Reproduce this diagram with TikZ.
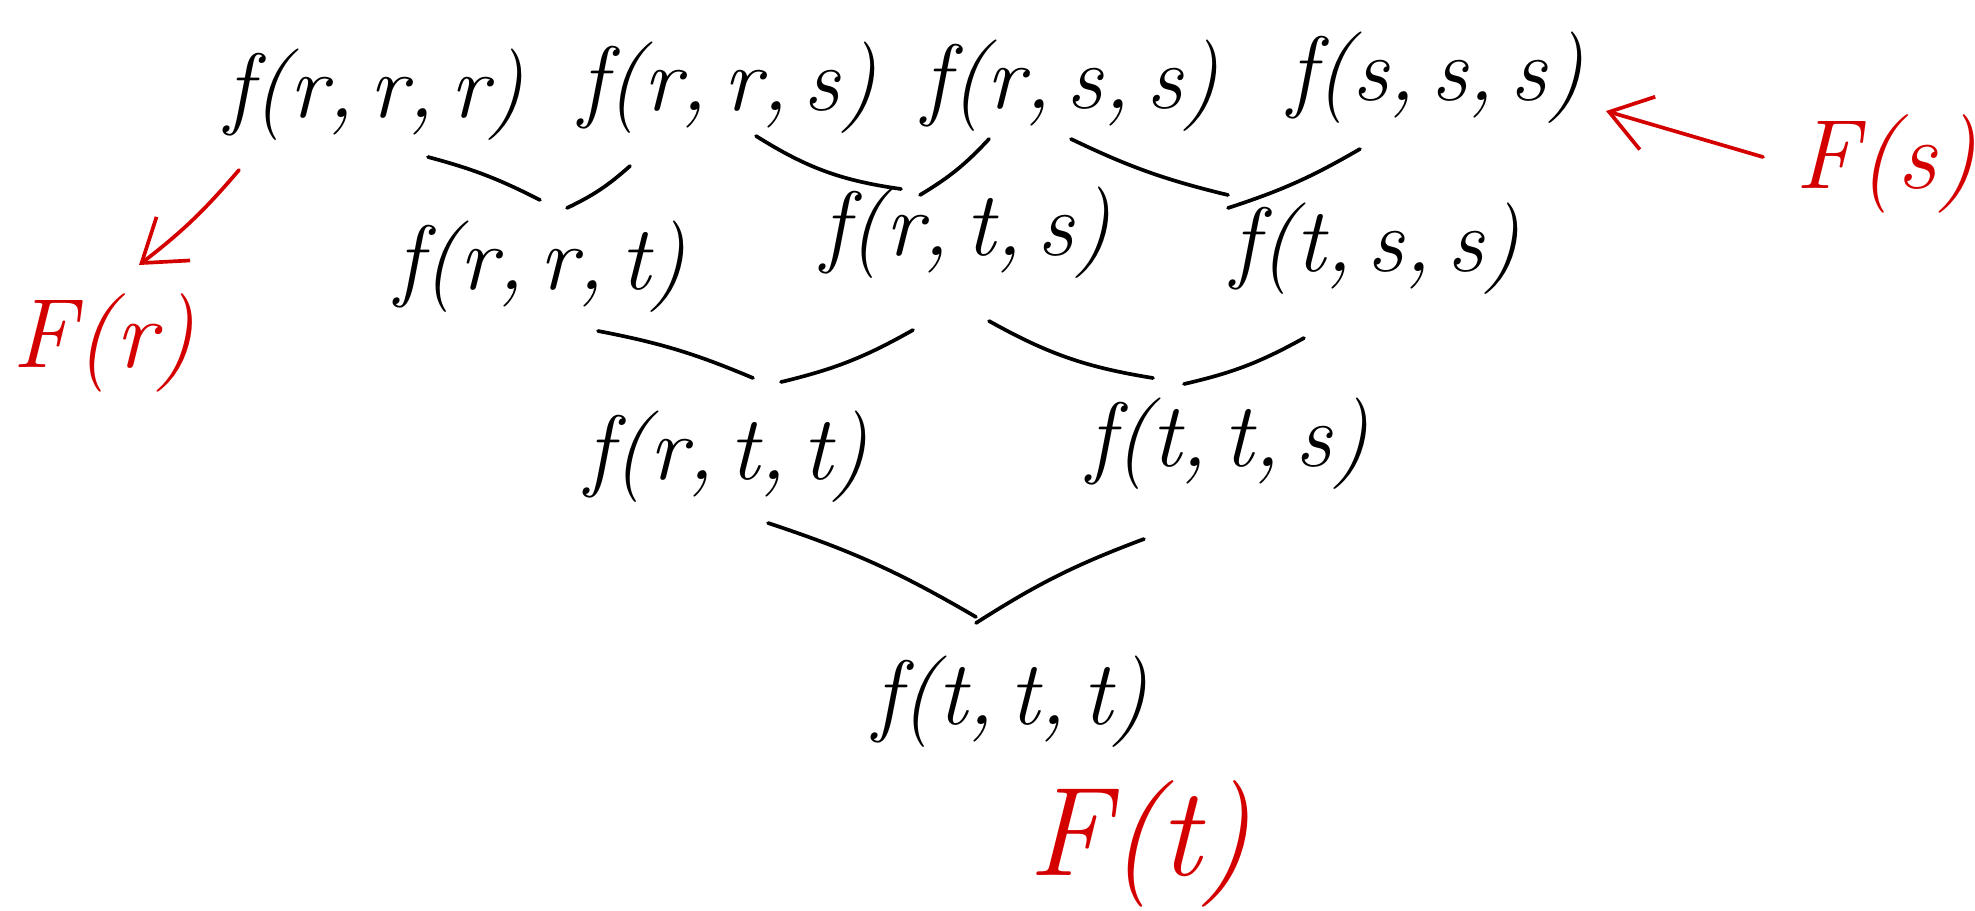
\documentclass[tikz,border=0pt]{standalone}
\usetikzlibrary{arrows.meta}
\definecolor{ink}{HTML}{000000}
\definecolor{pen}{HTML}{D40000}
\tikzset{
  term/.style   ={inner sep=0pt, font=\fontsize{52}{60}\selectfont\itshape, text=ink},
  total/.style  ={inner sep=0pt, font=\fontsize{56}{64}\selectfont\itshape, text=pen},
  link/.style   ={draw=ink, line width=2.1pt, line cap=round},
  redarr/.style ={draw=pen, line width=2.1pt, line cap=round,
                  -{Straight Barb[length=8mm,width=11mm,line width=2.1pt]}},
}

\begin{document}
\begin{tikzpicture}[x=0.02cm,y=-0.02cm]
  \useasboundingbox (0,0) rectangle (1975,910);

  % top row
  \node[term] (rrr) at (375,95) {f(r,\,r,\,r)};
  \node[term] (rrs) at (728,88) {f(r,\,r,\,s)};
  \node[term] (rss) at (1071,86) {f(r,\,s,\,s)};
  \node[term] (sss) at (1436,78) {f(s,\,s,\,s)};

  % second row
  \node[term] (rrt) at (541,267) {f(r,\,r,\,t)};
  \node[term] (rts) at (966,233) {f(r,\,t,\,s)};
  \node[term] (tss) at (1376,249) {f(t,\,s,\,s)};

  % third row
  \node[term] (rtt) at (727,457) {f(r,\,t,\,t)};
  \node[term] (tts) at (1228,444) {f(t,\,t,\,s)};

  % bottom
  \node[term] (ttt) at (1011,702) {f(t,\,t,\,t)};

  % red totals
  \node[total] (Fr) at (104,343) {F(r)};
  \node[total] (Fs) at (1886,164) {F(s)};
  \node[total,font=\fontsize{72}{80}\selectfont\itshape] (Ft) at (1140,844) {F(t)};

  % links between rows
  \draw[link] ([shift={(53,62)}]rrr.center) to[bend left=6] ([shift={(-1,-67)}]rrt.center);
  \draw[link] ([shift={(-98,78)}]rrs.center) to[bend left=8] ([shift={(26,-59)}]rrt.center);
  \draw[link] ([shift={(28,48)}]rrs.center) to[bend right=12] ([shift={(-65,-44)}]rts.center);
  \draw[link] ([shift={(-82,53)}]rss.center) to[bend left=8] ([shift={(-46,-38)}]rts.center);
  \draw[link] ([shift={(0,53)}]rss.center) to[bend right=6] ([shift={(-148,-54)}]tss.center);
  \draw[link] ([shift={(-76,71)}]sss.center) to[bend left=6] ([shift={(-148,-41)}]tss.center);
  \draw[link] ([shift={(57,64)}]rrt.center) to[bend left=6] ([shift={(26,-79)}]rtt.center);
  \draw[link] ([shift={(-53,97)}]rts.center) to[bend left=8] ([shift={(54,-75)}]rtt.center);
  \draw[link] ([shift={(23,88)}]rts.center) to[bend right=10] ([shift={(-75,-66)}]tts.center);
  \draw[link] ([shift={(-72,89)}]tss.center) to[bend left=8] ([shift={(-44,-60)}]tts.center);
  \draw[link] ([shift={(-35,-85)}]ttt.center) to[bend right=6] ([shift={(41,66)}]rtt.center);
  \draw[link] ([shift={(-35,-79)}]ttt.center) to[bend left=6] ([shift={(-84,95)}]tts.center);

  % red arrows
  \draw[redarr] ([shift={(-136,75)}]rrr.center) to[bend left=6] ([shift={(35,-78)}]Fr.center);
  \draw[redarr] ([shift={(-123,-7)}]Fs.center) -- ([shift={(170,33)}]sss.center);
\end{tikzpicture}
\end{document}
